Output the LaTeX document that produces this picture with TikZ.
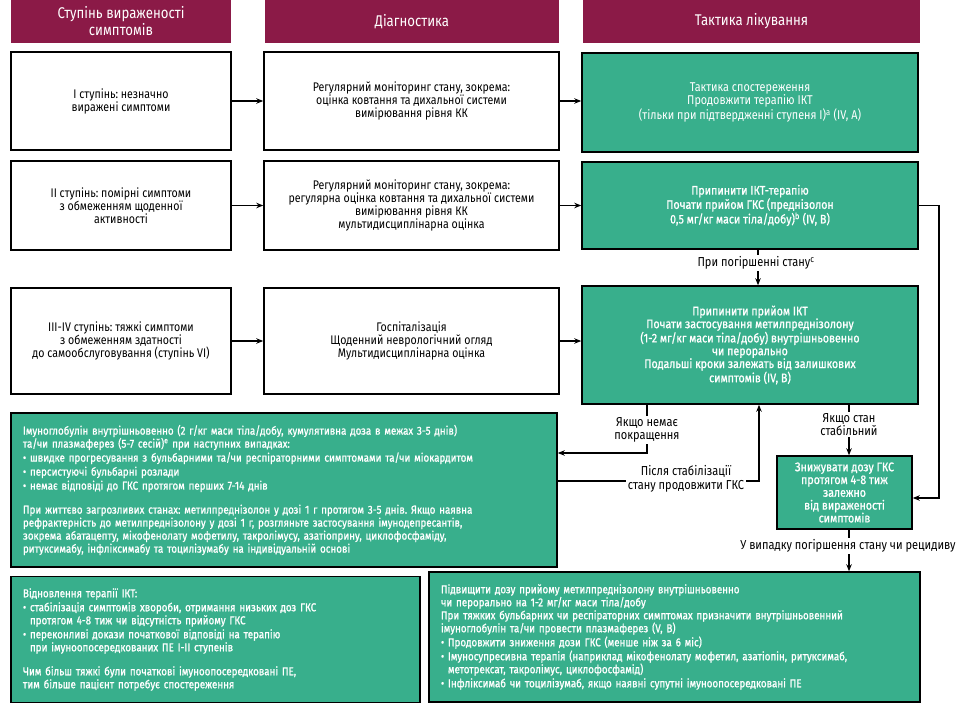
\documentclass[tikz,border=0pt]{standalone}
\usepackage{fontspec}
\setmainfont{Fira Sans}[FakeStretch=0.85]
\newfontfamily\semib{Fira Sans}[FakeStretch=0.85,FakeBold=1]
\usetikzlibrary{arrows.meta}
\definecolor{hdrred}{HTML}{8B1A47}
\definecolor{tgreen}{HTML}{38AF8C}
\frenchspacing
\begin{document}
\frenchspacing
\begin{tikzpicture}[x=1pt,y=-1pt,
  hdr/.style={fill=hdrred, draw=none, text=white, font=\fontsize{15.5}{17}\selectfont, align=center, inner sep=0pt},
  wbox/.style={draw=black, line width=1.5pt, fill=white, align=center, font=\fontsize{12.5}{13}\selectfont, inner sep=0pt},
  gbox/.style={draw=black, line width=1.5pt, fill=tgreen, text=white, align=center, font=\semib\fontsize{12.5}{12.8}\selectfont, inner sep=0pt},
  gboxl/.style={gbox, font=\fontsize{12.75}{13.2}\selectfont},
  bigbox/.style={draw=black, line width=1.5pt, fill=tgreen, text=white, align=left, font=\semib\fontsize{11.5}{13}\selectfont, inner sep=12pt},
  conn/.style={line width=1.3pt, -{Stealth[length=7pt,width=5.5pt]}},
  lbl/.style={fill=white, font=\fontsize{13}{13.5}\selectfont, align=center, inner sep=1.5pt}
]
\useasboundingbox (0,0) rectangle (976,707);

% headers
\node[hdr, minimum width=220pt, minimum height=43pt] (h1) at (121,21.5) {Ступінь вираженості\\симптомів};
\node[hdr, minimum width=294pt, minimum height=43pt] (h2) at (412,21.5) {Діагностика};
\node[hdr, minimum width=337pt, minimum height=43pt] (h3) at (751.5,21.5) {Тактика лікування};

% row 1
\node[wbox, minimum width=220pt, minimum height=98pt] (w1a) at (121,101) {І ступінь: незначно\\виражені симптоми};
\node[wbox, minimum width=295pt, minimum height=98pt] (w1b) at (411.5,101) {Регулярний моніторинг стану, зокрема:\\оцінка ковтання та дихальної системи\\вимірювання рівня КК};
\node[gboxl, minimum width=336pt, minimum height=99pt] (g1) at (750,102.5) {Тактика спостереження\\Продовжити терапію ІКТ\\(тільки при підтвердженні ступеня І)\textsuperscript{a} (IV, A)};

% row 2
\node[wbox, minimum width=220pt, minimum height=89pt] (w2a) at (121,205.5) {ІІ ступінь: помірні симптоми\\з обмеженням щоденної\\активності};
\node[wbox, minimum width=295pt, minimum height=89pt] (w2b) at (411.5,205.5) {Регулярний моніторинг стану, зокрема:\\регулярна оцінка ковтання та дихальної системи\\вимірювання рівня КК\\мультидисциплінарна оцінка};
\node[gbox, minimum width=336pt, minimum height=87pt] (g2) at (750,205.5) {Припинити ІКТ-терапію\\Почати прийом ГКС (преднізолон\\0,5 мг/кг маси тіла/добу)\textsuperscript{b} (IV, B)};

% row 3
\node[wbox, minimum width=220pt, minimum height=106pt] (w3a) at (121,341) {ІІІ-IV ступінь: тяжкі симптоми\\з обмеженням здатності\\до самообслуговування (ступінь VI)};
\node[wbox, minimum width=295pt, minimum height=106pt] (w3b) at (411.5,341) {Госпіталізація\\Щоденний неврологічний огляд\\Мультидисциплінарна оцінка};
\node[gbox, minimum width=336pt, minimum height=118pt] (g3) at (750,345) {Припинити прийом ІКТ\\Почати застосування метилпреднізолону\\(1-2 мг/кг маси тіла/добу) внутрішньовенно\\чи перорально\\Подальші кроки залежать від залишкових\\симптомів (IV, B)};

% big left box
\node[bigbox, text width=522pt, minimum height=144pt] (big) at (284,490) {Імуноглобулін внутрішньовенно (2 г/кг маси тіла/добу, кумулятивна доза в межах 3-5 днів)\\
та/чи плазмаферез (5-7 сесій)\textsuperscript{e} при наступних випадках:\\[1pt]
• швидке прогресування з бульбарними та/чи респіраторними симптомами та/чи міокардитом\\[1pt]
• персистуючі бульбарні розлади\\[1pt]
• немає відповіді до ГКС протягом перших 7-14 днів\\[11pt]
При життєво загрозливих станах: метилпреднізолон у дозі 1 г протягом 3-5 днів. Якщо наявна\\
рефрактерність до метилпреднізолону у дозі 1 г, розгляньте застосування імунодепресантів,\\
зокрема абатацепту, мікофенолату мофетилу, такролімусу, азатіоприну, циклофосфаміду,\\
ритуксимабу, інфліксимабу та тоцилізумабу на індивідуальній основі};

% taper box
\node[gbox, minimum width=135pt, minimum height=73pt] (z) at (844.5,492.5) {Знижувати дозу ГКС\\протягом 4-8 тиж\\залежно\\від вираженості\\симптомів};

% bottom boxes
\node[bigbox, text width=385pt, minimum height=125pt] (bl) at (215.5,639.5) {Відновлення терапії ІКТ:\\[1pt]
• стабілізація симптомів хвороби, отримання низьких доз ГКС\\
\phantom{• }протягом 4-8 тиж чи відсутність прийому ГКС\\[1pt]
• переконливі докази початкової відповіді на терапію\\
\phantom{• }при імуноопосередкованих ПЕ І-ІІ ступенів\\[11pt]
Чим більш тяжкі були початкові імуноопосередковані ПЕ,\\
тим більше пацієнт потребує спостереження};
\node[bigbox, text width=467pt, minimum height=130pt] (br) at (674.5,637) {Підвищити дозу прийому метилпреднізолону внутрішньовенно\\
чи перорально на 1-2 мг/кг маси тіла/добу\\
При тяжких бульбарних чи респіраторних симптомах призначити внутрішньовенний\\
імуноглобулін та/чи провести плазмаферез (V, B)\\[1pt]
• Продовжити зниження дози ГКС (менше ніж за 6 міс)\\[1pt]
• Імуносупресивна терапія (наприклад мікофенолату мофетил, азатіопін, ритуксимаб,\\
\phantom{• }метотрексат, такролімус, циклофосфамід)\\[1pt]
• Інфліксимаб чи тоцилізумаб, якщо наявні супутні імуноопосередковані ПЕ};

% row connectors
\draw[conn] (w1a.east) -- (w1b.west);
\draw[conn] (w1b.east) -- (w1b.east -| g1.west);
\draw[conn] (w2a.east) -- (w2b.west);
\draw[conn] (w2b.east) -- (w2b.east -| g2.west);
\draw[conn] (w3a.east) -- (w3b.west);
\draw[conn] (w3b.east) -- (w3b.east -| g3.west);

% g2 -> g3
\coordinate (g2b) at (758,0);
\draw[conn] (g2b |- g2.south) -- (g2b |- g3.north);
\node[lbl] (l1) at (756,263) {При погіршенні стану\textsuperscript{c}};

% g2 -> z (right loop)
\coordinate (rr) at (939,0);
\draw[conn] (g2.east) -- (rr |- g2.east) -- (rr |- 0,498) -- (z.east |- 0,498);

% g3 -> big (no improvement)
\coordinate (nx) at (647,0);
\draw[conn] (nx |- g3.south) -- (nx |- 0,453) -- (big.east |- 0,453);
\node[lbl] (l2) at (647,430) {Якщо немає\\покращення};

% big -> g3 (after stabilisation)
\coordinate (sx) at (759,0);
\draw[conn] (big.east |- 0,481) -- (sx |- 0,481) -- (sx |- g3.south);
\node[lbl] (l3) at (686,479) {Після стабілізації\\стану продовжити ГКС};

% g3 -> z
\coordinate (zx) at (849,0);
\draw[conn] (zx |- g3.south) -- (zx |- z.north);
\node[lbl] (l4) at (849,424.5) {Якщо стан\\стабільний};

% z -> br
\draw[conn] (zx |- z.south) -- (zx |- br.north);
\node[lbl] (l5) at (848,546) {У випадку погіршення стану чи рецидиву};
\end{tikzpicture}
\end{document}
